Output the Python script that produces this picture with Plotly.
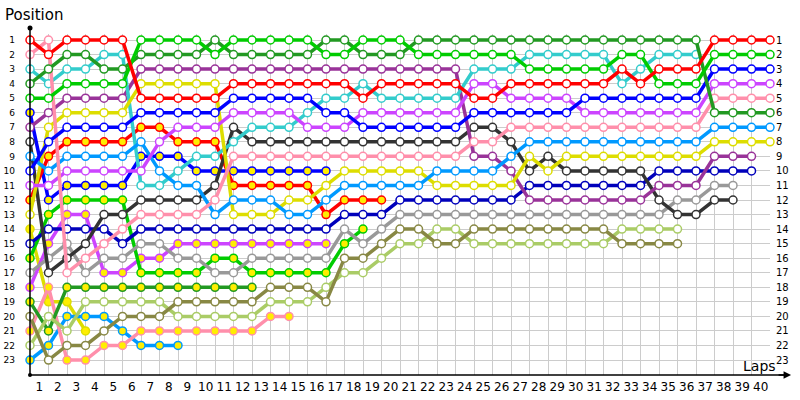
import plotly.graph_objects as go

N = None
LAPS = list(range(41))
POSITIONS = list(range(1, 24))
LAP_LABELS = [str(k) for k in range(1, 41)]

# position of each car after every lap (lap 0 = grid), None = not running
red_w = [1,2,1,1,1,1,5,5,5,5,5] + [4,4,4,4,4,4,4,5,4,4] + [4,4,4,5,5,4,4,4,4,4] + [4,3,4,3,3,3,1,1,1,1]
pink_w = [2,1,17,16,15,14,13,13,13,13,12] + [9]*13 + [8,8] + [7]*11 + [5]*4
green_w = [5,5,4,4,4,4,1,1,1,1,2] + [1,1,1,1,1,2,2,1,1,1] + [2]*6 + [3]*5 + [2,2,4,4,4] + [2]*4
dkgreen_w = [4,3,2,2,3,3,2,2,2,2,1] + [2,2,2,2,2,1,1,2,2,2] + [1]*16 + [6]*4
cyan_w = [3,4,3,3,2,2,11,11,10,9,9] + [8,7,7,7,6,5,5,4,5,5] + [5,5,5,3,3,3,2,2,2,2] + [2,4,3,2,2,2] + [N]*4
purple_w = [7,6,5,5,5,5,3,3,3,3,3] + [3]*13 + [9,9,10,12,12,12,12,12,12,12] + [11,11,11] + [9,9,9] + [N]
yellow_w = [13,7,6,6,6,6,4,4,4,4,4] + [13,13,13,12,12,11,10,10,10,10] + [10,11,11,11,11,11,9,10,9,9] + [9]*6 + [8]*4
blue_w = [10,8,7,7,7,7,6,6,6,6,6] + [5,5,5,5,5,6,6,7,7,7] + [7,7,7,6,6,6,6,6,6,5] + [5]*6 + [3]*4
ltblue_w = [9,10,9,9,9,9,8,10,11,11,13] + [12,12,12,13,13,12,11,11,11,11] + [11,10,10,10,10,9,8,8,8,8] + [8]*6 + [7]*4
violet_w = [11,11,10,10,10,10,10,8,7,7,7] + [6,6,6,6,7,7,7,6,6,6] + [6,6,6,4,4,5,5,5,5,6] + [6]*6 + [4]*4
dkgray_w = [8,17,16,15,13,13,12,12,12,12,11] + [7,8,8,8,8,8,8,8,8,8] + [8,8,8,7,7,8,10,9,10,10] + [10,10,10,12,13,13] + [12,12,N,N]
gray_w = [17,16,15,17,16,16,15,15,16,16,17] + [17,16,16,16,16,16,14,15,14,13] + [13]*14 + [12,12] + [11,11,N,N]
navy_w = [15,14,14,14,14,15,14,14,14,14,14] + [14,14,14,14,14,14,13,13,13,12] + [12]*6 + [11]*7 + [10]*6 + [N]
olive_w = [20,23,22,22,21,20,20,20,19,19,19] + [19,19,18,18,18,19,16,16,15,14] + [14,15,15,14,14,14,14,14,14,14] + [14,15,15,15,15] + [N]*5
ltolive_w = [22,20,21,19,19,19,19,19,20,20,20] + [20,20,19,19,19,18,17,17,16,15] + [15,14,14,15,15,15,15,15,15,15] + [15,14,14,14,14] + [N]*5
red_y = [12,9,8,8,8,8,7,7,8,8,8] + [11,11,11,11,11,13,12,12,12] + [N]*21
blue_y = [6,12,11,11,11,11,9,9,9,10,10] + [10]*6 + [N]*24
green_y = [16,13,12,12,12,12,17,17,17,17,16] + [16,17,17,17,17,17,15,14] + [N]*22
violet_y = [18,15,13,13,17,17,16,16,15,15,15] + [15]*6 + [N]*24
dkgreen_y = [19,21] + [18]*11 + [N]*28
pink_y = [21,18,23,23,22,22,21,21,21,21,21] + [21,21,20,20] + [N]*26
ltblue_y = [23,22,20,20,20,21,22,22,22] + [N]*32
yellow_y = [14,19,19,21] + [N]*37

# styles: (series, line colour, marker fill)
WHITE = "#ffffff"
YEL = "#ffee00"
CARS = [
    (yellow_y, "#dddd00", YEL), (ltblue_y, "#0099ff", YEL), (pink_y, "#ff8fab", YEL),
    (dkgreen_y, "#229922", YEL), (violet_y, "#cc44ff", YEL), (green_y, "#00cc00", YEL),
    (blue_y, "#0000ff", YEL), (red_y, "#ff0000", YEL),
    (ltolive_w, "#aacc66", WHITE), (olive_w, "#888844", WHITE), (gray_w, "#999999", WHITE),
    (navy_w, "#0000bb", WHITE), (dkgray_w, "#333333", WHITE), (purple_w, "#993399", WHITE),
    (cyan_w, "#33cccc", WHITE), (yellow_w, "#dddd00", WHITE), (ltblue_w, "#0099ff", WHITE),
    (violet_w, "#cc44ff", WHITE), (pink_w, "#ff8fab", WHITE), (blue_w, "#0000ff", WHITE),
    (dkgreen_w, "#229922", WHITE), (green_w, "#00cc00", WHITE), (red_w, "#ff0000", WHITE),
]

fig = go.Figure()
for series, col, fill in CARS:
    fig.add_trace(go.Scatter(
        x=LAPS, y=series, mode="lines+markers", cliponaxis=False,
        line=dict(color=col, width=3.5),
        marker=dict(symbol="circle", size=8, color=fill, line=dict(color=col, width=1.5)),
        hoverinfo="skip", showlegend=False))

# invisible trace to carry the right-hand position axis
fig.add_trace(go.Scatter(x=[0], y=[1], yaxis="y2", mode="markers",
                         marker=dict(opacity=0), showlegend=False, hoverinfo="skip"))

YR = [24.03, 0.5875]
FONT = "DejaVu Sans"
fig.update_layout(
    width=800, height=400,
    margin=dict(l=30, r=30, t=34, b=25, autoexpand=False),
    paper_bgcolor="white", plot_bgcolor="white", showlegend=False,
    xaxis=dict(range=[0, 40], tickvals=[k - 0.5 for k in range(1, 41)], ticktext=LAP_LABELS,
               showgrid=False, zeroline=False, showline=False, ticks="", automargin=False,
               ticklabelstandoff=3,
               tickfont=dict(family=FONT, size=12, color="black"),
               minor=dict(dtick=1, tick0=0, showgrid=True, gridcolor="#cccccc", gridwidth=1)),
    yaxis=dict(range=YR, tickvals=POSITIONS, ticktext=[str(p) for p in POSITIONS],
               showgrid=True, gridcolor="#cccccc", gridwidth=1, zeroline=False, showline=False,
               ticks="", ticklabelstandoff=14, automargin=False,
               tickfont=dict(family=FONT, size=9, color="black")),
    yaxis2=dict(range=YR, overlaying="y", side="right", tickvals=POSITIONS,
                ticktext=[str(p) for p in POSITIONS], showgrid=False, zeroline=False,
                showline=False, ticks="", ticklabelstandoff=5, automargin=False,
                tickfont=dict(family=FONT, size=10, color="black")),
)

# axis lines with arrow / dots
fig.add_shape(type="line", xref="paper", yref="paper", x0=0, x1=0, y0=0, y1=1.0176,
              line=dict(color="black", width=1.5))
fig.add_shape(type="line", xref="paper", yref="paper", x0=0, x1=1.025, y0=0, y1=0,
              line=dict(color="black", width=1.5))
fig.add_shape(type="circle", xref="paper", yref="paper",
              x0=-2.5/740, x1=2.5/740, y0=1.0176-2.5/341, y1=1.0176+2.5/341,
              fillcolor="black", line=dict(color="black", width=0))
fig.add_shape(type="circle", xref="paper", yref="paper",
              x0=-2/740, x1=2/740, y0=-2/341, y1=2/341,
              fillcolor="black", line=dict(color="black", width=0))
fig.add_annotation(xref="paper", yref="paper", x=1.0285, y=0, ax=-14, ay=0,
                   axref="pixel", ayref="pixel", showarrow=True, arrowhead=2,
                   arrowsize=1, arrowwidth=1.5, arrowcolor="black", text="")

fig.add_annotation(xref="paper", yref="paper", x=(3 - 30) / 740, y=(375 - 15) / 341,
                   xanchor="left", yanchor="middle", text="Position", showarrow=False,
                   font=dict(family=FONT, size=15, color="black"))
fig.add_annotation(xref="paper", yref="paper", x=(741 - 30) / 740, y=(375 - 366) / 341,
                   xanchor="left", yanchor="middle", text="Laps", showarrow=False,
                   font=dict(family=FONT, size=14, color="black"))

# remove the browser's default 8px page margin so the 800x400 figure fills the window
fig.write_html("out.html", config={"displayModeBar": False},
               post_script="document.body.style.margin='0';")
